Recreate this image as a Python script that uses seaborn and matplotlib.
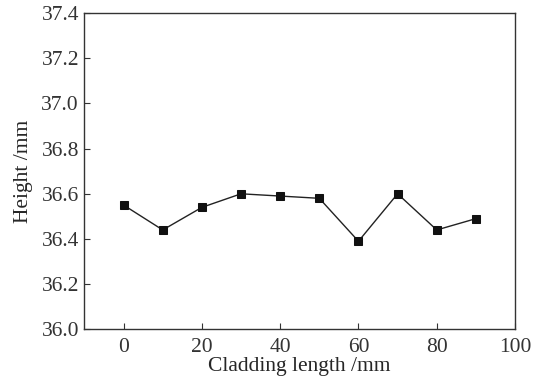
import matplotlib
matplotlib.use("Agg")
import matplotlib.pyplot as plt
import seaborn as sns
import pandas as pd

# Data
length = [0, 10, 20, 30, 40, 50, 60, 70, 80, 90]
height = [36.55, 36.44, 36.54, 36.60, 36.59, 36.58, 36.39, 36.60, 36.44, 36.49]
x_ticks = [0, 20, 40, 60, 80, 100]
y_ticks = [36.0, 36.2, 36.4, 36.6, 36.8, 37.0, 37.2, 37.4]

df = pd.DataFrame({"Cladding length /mm": length, "Height /mm": height})

sns.set_style("ticks")
plt.rcParams["font.family"] = ["Liberation Serif", "DejaVu Serif"]

fig, ax = plt.subplots(figsize=(5.45, 3.83), dpi=100)
fig.subplots_adjust(left=0.155, right=0.945, top=0.966, bottom=0.14)

sns.lineplot(data=df, x="Cladding length /mm", y="Height /mm", ax=ax,
             color="#222222", linewidth=1.0, marker="s", markersize=6,
             markeredgecolor="#111111", markerfacecolor="#111111")

ax.set_xlim(-10, 100)
ax.set_ylim(36.0, 37.4)
ax.set_xticks(x_ticks)
ax.set_yticks(y_ticks)
ax.set_yticklabels([f"{v:.1f}" for v in y_ticks])
ax.tick_params(direction="in", length=4, labelsize=15.5, colors="#333333")
ax.tick_params(axis="x", pad=6)
ax.tick_params(axis="y", pad=4)
ax.set_xlabel("Cladding length /mm", fontsize=15.5, labelpad=0)
ax.set_ylabel("Height /mm", fontsize=15.5, labelpad=6)
for s in ax.spines.values():
    s.set_color("#333333")
    s.set_linewidth(1.0)

fig.savefig("out.png", dpi=100)
